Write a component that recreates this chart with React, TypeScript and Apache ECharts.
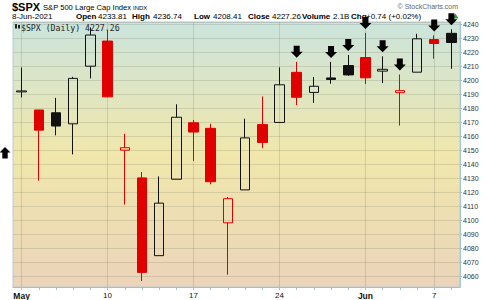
import React, { useEffect, useRef } from 'react';
import * as echarts from 'echarts';

// ---- Data (S&P 500 daily) ----
const dates = [
  '2021-05-03', '2021-05-04', '2021-05-05', '2021-05-06', '2021-05-07',
  '2021-05-10', '2021-05-11', '2021-05-12', '2021-05-13', '2021-05-14',
  '2021-05-17', '2021-05-18', '2021-05-19', '2021-05-20', '2021-05-21',
  '2021-05-24', '2021-05-25', '2021-05-26', '2021-05-27', '2021-05-28',
  '2021-06-01', '2021-06-02', '2021-06-03', '2021-06-04', '2021-06-07',
  '2021-06-08',
];
const opens = [4191.98, 4179.04, 4177.06, 4169.14, 4210.34, 4228.29, 4150.34, 4130.55, 4074.99, 4129.58, 4169.92, 4165.94, 4098.45, 4121.97, 4168.61, 4170.16, 4205.94, 4191.59, 4201.94, 4210.77, 4216.52, 4206.82, 4191.43, 4206.05, 4229.34, 4233.81];
const highs = [4209.39, 4179.04, 4187.72, 4202.70, 4238.04, 4236.39, 4162.04, 4134.73, 4131.58, 4183.13, 4171.92, 4169.15, 4116.93, 4172.80, 4188.72, 4209.52, 4213.42, 4202.61, 4213.38, 4218.36, 4234.12, 4217.37, 4204.39, 4233.45, 4232.34, 4236.74];
const lows = [4188.03, 4128.59, 4160.94, 4147.33, 4201.64, 4188.13, 4111.53, 4056.88, 4074.99, 4129.58, 4142.69, 4125.99, 4061.41, 4121.97, 4151.72, 4170.16, 4182.52, 4184.11, 4197.78, 4203.57, 4197.59, 4198.27, 4167.93, 4206.05, 4215.66, 4208.41];
const closes = [4192.66, 4164.66, 4167.59, 4201.62, 4232.60, 4188.43, 4152.10, 4063.04, 4112.50, 4173.85, 4163.29, 4127.83, 4115.68, 4159.12, 4155.86, 4197.05, 4188.13, 4195.99, 4200.88, 4204.11, 4202.04, 4208.12, 4192.85, 4229.89, 4226.52, 4227.26];
const priorClose = 4181.17; // close before the first bar (30-Apr-2021)

// days flagged with a down arrow above the high
const arrowDayIdx = [16, 18, 19, 20, 21, 22, 24, 25];

// x-axis labels
const labelIdx = [0, 5, 10, 15, 20, 24];
const labelText = ['May', '10', '17', '24', 'Jun', '7'];
const labelIsMonth = [true, false, false, false, true, false];

// y-axis range
const yMin = 4052.6;
const yMax = 4241.9;

const RED = '#e00000';
const BLACK = '#111111';
const FONT = 'Liberation Sans';

export default function App() {
  const ref = useRef<HTMLDivElement>(null);

  useEffect(() => {
    const chart = echarts.init(ref.current!, null, { renderer: 'svg' });

    const candleData = dates.map((d, i) => {
      const o = opens[i];
      const c = closes[i];
      const prev = i === 0 ? priorClose : closes[i - 1];
      const col = c >= prev ? BLACK : RED;
      const hollow = c > o;
      const fill = hollow ? 'rgba(0,0,0,0)' : col;
      return {
        value: [o, c, lows[i], highs[i]],
        itemStyle: {
          color: fill,
          color0: fill,
          borderColor: col,
          borderColor0: col,
          borderColorDoji: col,
          borderWidth: 1,
        },
      };
    });

    const arrowData = arrowDayIdx.map((i) => [dates[i], highs[i]]);

    const gridLines = labelIdx.map((i) => ({ xAxis: dates[i] }));

    const txt = (x: number, y: number, text: string, size: number, bold = false, fill = '#000', align = 'left', family = FONT) => ({
      type: 'text',
      x,
      y,
      z: 0,
      silent: true,
      style: {
        text,
        fontFamily: family,
        fontSize: size,
        fontWeight: bold ? 'bold' : 'normal',
        fill,
        align,
        verticalAlign: 'middle',
      },
    });

    const option: any = {
      animation: false,
      backgroundColor: '#ffffff',
      grid: {
        left: 13,
        right: 35,
        top: 22,
        bottom: 13,
        show: true,
        borderWidth: 1,
        borderColor: '#bccbd4',
        backgroundColor: {
          type: 'linear',
          x: 0,
          y: 0,
          x2: 0,
          y2: 1,
          colorStops: [
            { offset: 0, color: '#cbe4dc' },
            { offset: 0.5, color: '#f0e7ab' },
            { offset: 1, color: '#ebd4ba' },
          ],
        },
      },
      xAxis: {
        type: 'category',
        data: dates,
        boundaryGap: true,
        axisLine: { show: true, lineStyle: { color: '#a9bccb' } },
        axisTick: { show: true, interval: 0, alignWithLabel: true, length: 3, lineStyle: { color: '#9fc0d4' } },
        axisLabel: {
          interval: 0,
          margin: 4,
          fontFamily: FONT,
          fontSize: 8,
          color: '#111',
          formatter: (_v: string, i: number) => {
            const k = labelIdx.indexOf(i);
            if (k < 0) return '';
            return labelIsMonth[k] ? '{b|' + labelText[k] + '}' : labelText[k];
          },
          rich: { b: { fontFamily: FONT, fontSize: 8.5, fontWeight: 'bold', color: '#111' } },
        },
        splitLine: { show: false },
      },
      yAxis: {
        type: 'value',
        position: 'right',
        min: yMin,
        max: yMax,
        splitNumber: 19,
        axisLine: { show: true, lineStyle: { color: '#9fc5d6' } },
        axisTick: { show: true, length: 2, lineStyle: { color: '#9fc5d6' } },
        axisLabel: {
          fontFamily: FONT,
          fontSize: 7,
          color: '#333',
          margin: 3,
          showMinLabel: false,
          showMaxLabel: false,
          formatter: (v: number) => (Math.abs(v % 10) < 1e-6 ? String(v) : ''),
        },
        splitLine: { show: true, lineStyle: { color: 'rgba(110,110,90,0.2)', width: 1 } },
      },
      series: [
        {
          type: 'candlestick',
          barWidth: 10,
          data: candleData,
          markLine: {
            silent: true,
            z: 1,
            symbol: ['none', 'none'],
            label: { show: false },
            lineStyle: { color: 'rgba(110,110,90,0.22)', width: 1, type: 'solid' },
            data: gridLines,
          },
        },
        {
          type: 'scatter',
          data: arrowData,
          clip: false,
          silent: true,
          z: 5,
          symbol: 'path://M3,0L9,0L9,6L12,6L6,12L0,6L3,6Z',
          symbolSize: [12, 12],
          symbolOffset: [0, -10],
          itemStyle: { color: '#000', opacity: 1 },
        },
      ],
      graphic: [
        txt(12, 6.5, '$SPX', 11, true),
        txt(43, 7, 'S&P 500 Large Cap Index', 7.6),
        txt(133, 7.5, 'INDX', 6),
        txt(458, 6, '\u00A9 StockCharts.com', 7, false, '#666', 'right'),
        txt(12, 16.5, '8-Jun-2021', 8),
        txt(76, 16.5, 'Open', 8, true),
        txt(98, 16.5, '4233.81', 8),
        txt(132, 16.5, 'High', 8, true),
        txt(153, 16.5, '4236.74', 8),
        txt(194, 16.5, 'Low', 8, true),
        txt(213, 16.5, '4208.41', 8),
        txt(248, 16.5, 'Close', 8, true),
        txt(272, 16.5, '4227.26', 8),
        txt(302, 16.5, 'Volume', 8, true),
        txt(333, 16.5, '2.1B', 8),
        txt(351, 16.5, 'Chg', 8, true),
        txt(366, 16.5, '+0.74 (+0.02%)', 8),
        {
          type: 'polygon',
          silent: true,
          shape: { points: [[455.5, 13.5], [458.5, 18.5], [452.5, 18.5]] },
          style: { fill: '#2e9e3e' },
        },
        // legend icon + label inside plot
        { type: 'rect', silent: true, shape: { x: 15, y: 24, width: 2, height: 4.5 }, style: { fill: '#222' } },
        { type: 'rect', silent: true, shape: { x: 18, y: 25, width: 2, height: 3.5 }, style: { fill: '#222' } },
        txt(21, 27.5, '$SPX (Daily) 4227.26', 8.2, false, '#222', 'left', 'DejaVu Sans Mono'),
        // up arrow at left margin
        {
          type: 'polygon',
          silent: true,
          shape: {
            points: [[5, 147], [10.5, 152.5], [7.7, 152.5], [7.7, 158.5], [2.3, 158.5], [2.3, 152.5], [-0.5, 152.5]],
          },
          style: { fill: '#000' },
        },
      ],
    };

    chart.setOption(option);
    return () => chart.dispose();
  }, []);

  return <div ref={ref} style={{ position: 'absolute', left: 0, top: 0, width: 495, height: 300 }} />;
}
